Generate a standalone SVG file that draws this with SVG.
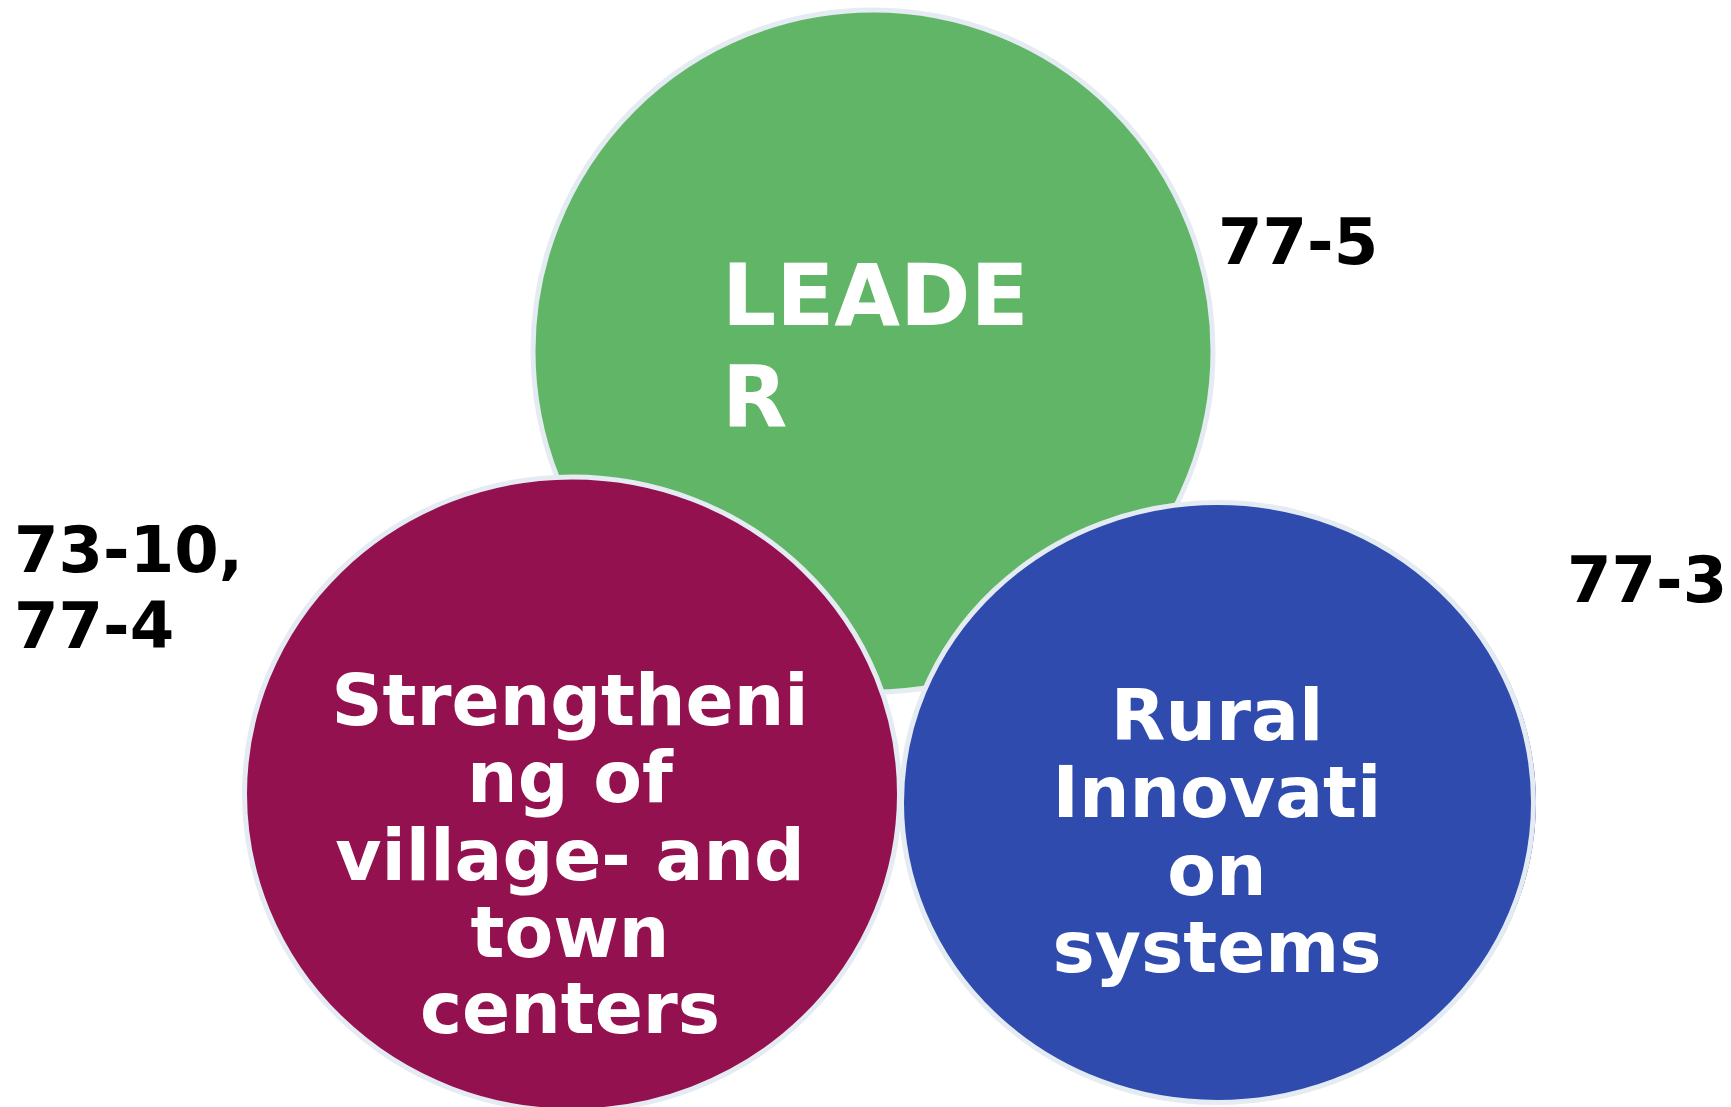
<svg xmlns="http://www.w3.org/2000/svg" width="1731" height="1107" viewBox="0 0 1731 1107">
<style>
.c{stroke:#e4ebf2;stroke-width:5}
.w{fill:#ffffff;font-family:"DejaVu Sans",Verdana,sans-serif;font-weight:bold}
.k{fill:#000000;font-family:"DejaVu Sans",Verdana,sans-serif;font-weight:bold;font-size:64px}
</style>
<rect width="1731" height="1107" fill="#ffffff"/>
<g id="connectors"></g>
<g id="node-leader">
<ellipse class="c" cx="873" cy="351" rx="340" ry="341" fill="#61b566"/>
<text class="w" font-size="85" x="722" y="325">LEADE</text>
<text class="w" font-size="85" x="722" y="427">R</text>
</g>
<g id="node-strengthening">
<ellipse class="c" cx="572" cy="794" rx="327.5" ry="317" fill="#941150"/>
<text class="w" font-size="71" text-anchor="middle" x="570" y="725">Strengtheni</text>
<text class="w" font-size="71" text-anchor="middle" x="570" y="802">ng of</text>
<text class="w" font-size="71" text-anchor="middle" x="570" y="880">village- and</text>
<text class="w" font-size="71" text-anchor="middle" x="570" y="957">town</text>
<text class="w" font-size="71" text-anchor="middle" x="570" y="1033">centers</text>
</g>
<g id="node-rural">
<ellipse cx="1219.5" cy="802.5" rx="316.5" ry="300" fill="#2e4bad"/>
<ellipse class="c" cx="1217.5" cy="802.5" rx="316" ry="300" fill="#2e4bad"/>
<text class="w" font-size="71" text-anchor="middle" x="1217" y="740">Rural</text>
<text class="w" font-size="71" text-anchor="middle" x="1217" y="817">Innovati</text>
<text class="w" font-size="71" text-anchor="middle" x="1217" y="895">on</text>
<text class="w" font-size="71" text-anchor="middle" x="1217" y="972">systems</text>
</g>
<g id="labels">
<text class="k" x="1218" y="264">77-5</text>
<text class="k" x="14" y="572">73-10,</text>
<text class="k" x="14" y="648">77-4</text>
<text class="k" x="1567" y="602">77-3</text>
</g>
</svg>
